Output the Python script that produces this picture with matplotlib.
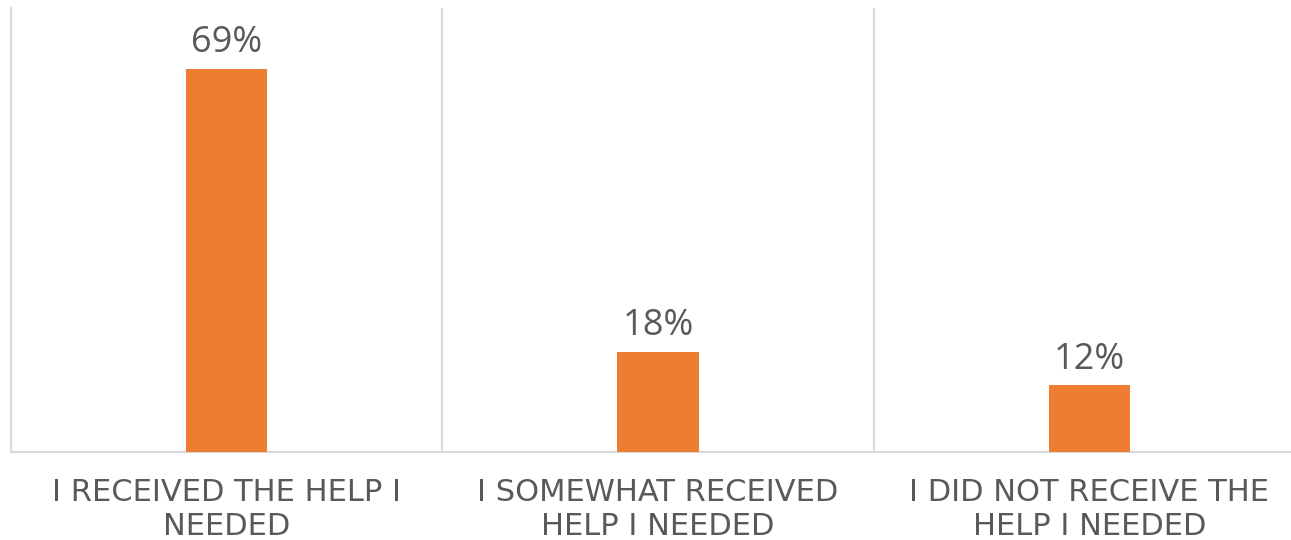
import matplotlib
matplotlib.use("Agg")
import matplotlib.pyplot as plt

categories = ["I RECEIVED THE HELP I\nNEEDED",
              "I SOMEWHAT RECEIVED\nHELP I NEEDED",
              "I DID NOT RECEIVE THE\nHELP I NEEDED"]
values = [69, 18, 12]

BAR = "#ED7D31"
TEXT = "#595959"
GRID = "#D9D9D9"

plt.rcParams["font.family"] = ["Open Sans", "DejaVu Sans"]

fig = plt.figure(figsize=(12.91, 5.4), dpi=100)
ax = fig.add_axes([11 / 1291, 88 / 540, 1294 / 1291, 444 / 540])

x = list(range(len(values)))
ax.bar(x, values, width=0.188, color=BAR, zorder=3)
ax.set_xlim(-0.5, len(values) - 0.5)
ax.set_ylim(0, 80)

for xi, v in zip(x, values):
    ax.annotate(f"{v}%", (xi, v), xytext=(0, 12), textcoords="offset points",
                ha="center", va="baseline", fontsize=26, color=TEXT)

# category separators
for xs in [0.5 + i for i in range(len(values) - 1)]:
    ax.axvline(xs, color=GRID, linewidth=1.5, zorder=1)

for side in ["top", "right"]:
    ax.spines[side].set_visible(False)
for side in ["left", "bottom"]:
    ax.spines[side].set_color(GRID)
    ax.spines[side].set_linewidth(1.5)

ax.set_yticks([])
ax.set_xticks(x)
ax.set_xticklabels(categories, fontsize=22, color=TEXT, linespacing=1.22,
                   family="DejaVu Sans")
ax.tick_params(axis="x", length=0, pad=19)

fig.savefig("out.png", dpi=100)
